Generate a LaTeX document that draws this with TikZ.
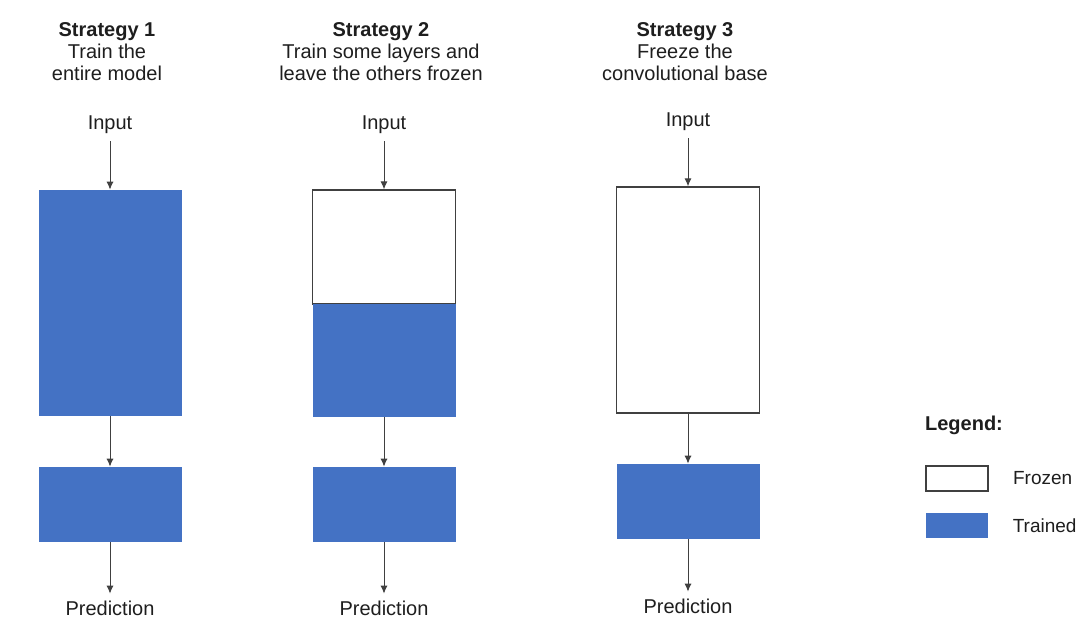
\documentclass[tikz,border=0pt]{standalone}
\usepackage{fontspec}
\setmainfont{Liberation Sans}
\usetikzlibrary{arrows.meta,positioning}
\definecolor{trainblue}{HTML}{4472C4}
\definecolor{inkgray}{HTML}{1E1E1E}

\begin{document}
\begin{tikzpicture}[x=0.5pt,y=-0.5pt,>={Latex[length=4pt,width=3.6pt]},
    font=\fontsize{10}{11}\selectfont,text=inkgray]
  \tikzstyle{frozen}=[draw=black!75,line width=0.7pt,fill=white,minimum width=71.5pt,inner sep=0pt]
  \tikzstyle{trained}=[fill=trainblue,minimum width=71.5pt,inner sep=0pt]
  \tikzstyle{head}=[align=center]
  \tikzstyle{flow}=[->,black!75,line width=0.5pt]
  \tikzstyle{keytext}=[font=\fontsize{9.5}{11}\selectfont,inner sep=0pt]
  \useasboundingbox (0,0) rectangle (1083,617);

  % strategy 1: everything trained
  \node[head] (t1) at (107,52) {\textbf{Strategy 1}\\Train the\\entire model};
  \node (in1) at (110,125) {Input};
  \node[trained,minimum height=113pt] (base1) at (110,303) {};
  \node[trained,minimum height=37.5pt] (top1) at (110,504.5) {};
  \node (out1) at (110,608) {Prediction};
  \draw[flow] (in1) -- (base1);
  \draw[flow] (base1) -- (top1);
  \draw[flow] (top1) -- (out1);

  % strategy 2: lower layers frozen
  \node[head] (t2) at (381,52) {\textbf{Strategy 2}\\Train some layers and\\leave the others frozen};
  \node (in2) at (384,125) {Input};
  \node[frozen,minimum height=57pt] (base2a) at (384,247) {};
  \node[trained,minimum height=56.5pt] (base2b) at (384,360.5) {};
  \node[trained,minimum height=37.5pt] (top2) at (384,504.5) {};
  \node (out2) at (384,608) {Prediction};
  \draw[flow] (in2) -- (base2a);
  \draw[flow] (base2b) -- (top2);
  \draw[flow] (top2) -- (out2);

  % strategy 3: whole base frozen
  \node[head] (t3) at (685,52) {\textbf{Strategy 3}\\Freeze the\\convolutional base};
  \node (in3) at (688,122) {Input};
  \node[frozen,minimum height=113pt] (base3) at (688,300) {};
  \node[trained,minimum height=37.5pt] (top3) at (688,501.5) {};
  \node (out3) at (688,606) {Prediction};
  \draw[flow] (in3) -- (base3);
  \draw[flow] (base3) -- (top3);
  \draw[flow] (top3) -- (out3);

  % legend
  \node (leg) at (964,425) {\textbf{Legend:}};
  \node[frozen,minimum width=31pt,minimum height=12.5pt] (kfrozen) at (957,478.5) {};
  \node[keytext,right=12pt of kfrozen] (lfrozen) {Frozen};
  \node[trained,minimum width=31pt,minimum height=12.5pt] (ktrained) at (957,525.5) {};
  \node[keytext,right=12pt of ktrained] (ltrained) {Trained};
\end{tikzpicture}
\end{document}
